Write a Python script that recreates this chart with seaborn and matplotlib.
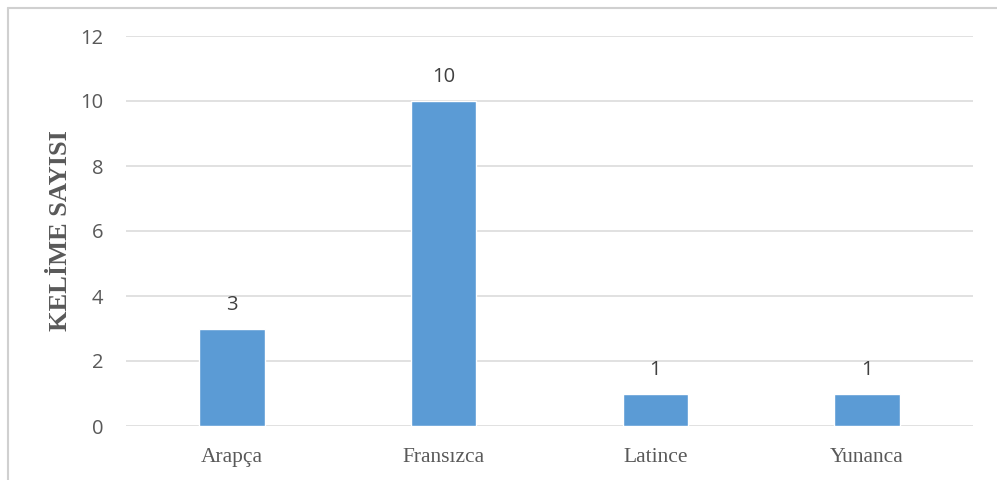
import pandas as pd
import matplotlib
matplotlib.use("Agg")
import matplotlib.pyplot as plt
import seaborn as sns
from matplotlib.lines import Line2D

# Chart data
diller = ["Arapça", "Fransızca", "Latince", "Yunanca"]
kelime_sayisi = [3, 10, 1, 1]
y_ticks = [0, 2, 4, 6, 8, 10, 12]

df = pd.DataFrame({"dil": diller, "sayi": kelime_sayisi})

sns.set_style("white")
fig = plt.figure(figsize=(9.97, 4.8), dpi=100)
ax = fig.add_axes([0.1264, 0.1125, 0.8495, 0.8125])

sns.barplot(data=df, x="dil", y="sayi", color="#5B9BD5", width=0.31,
            saturation=1, ax=ax, zorder=3)

ax.set_ylim(0, 12)
ax.set_yticks(y_ticks)
ax.set_xlim(-0.5, len(diller) - 0.5)
ax.yaxis.grid(True, color="#D9D9D9", linewidth=1.1, zorder=0)
ax.set_axisbelow(True)
for s in ax.spines.values():
    s.set_visible(False)
ax.tick_params(axis="both", length=0)
ax.tick_params(axis="y", pad=16.5)
ax.tick_params(axis="x", pad=16)

for lbl in ax.get_yticklabels():
    lbl.set_fontfamily("Open Sans")
    lbl.set_fontsize(14.5)
    lbl.set_color("#595959")
for lbl in ax.get_xticklabels():
    lbl.set_fontfamily("Liberation Serif")
    lbl.set_fontsize(15.5)
    lbl.set_color("#595959")

ax.set_xlabel("")
ax.set_ylabel("KELİME SAYISI", fontfamily="Liberation Serif", fontweight="bold",
              fontsize=19, color="#595959", labelpad=6)

# value labels above bars
for i, v in enumerate(kelime_sayisi):
    ax.annotate(str(v), (i, v), xytext=(0, 10), textcoords="offset points",
                ha="center", va="bottom", fontfamily="Open Sans", fontsize=14.5,
                color="#404040")

# outer chart border (left and top edges visible)
bx, by = 7.5 / 997, 1 - 7.5 / 480
fig.add_artist(Line2D([bx, bx], [0, by], transform=fig.transFigure,
                      color="#D0D0D0", linewidth=1.5))
fig.add_artist(Line2D([bx, 1], [by, by], transform=fig.transFigure,
                      color="#D0D0D0", linewidth=1.5))

fig.savefig("out.png", dpi=100)
